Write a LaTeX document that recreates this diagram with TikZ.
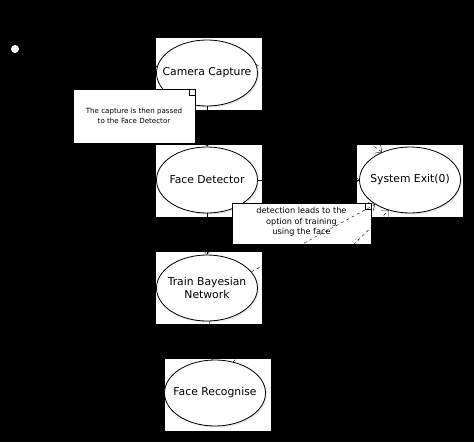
\documentclass[tikz,border=0pt]{standalone}
\usepackage{fontspec}
\setmainfont{DejaVu Sans}
\usetikzlibrary{shapes.geometric,arrows.meta,shadows}

\begin{document}
\begin{tikzpicture}[
        x=1pt, y=-1pt,
        font=\fontsize{10.8}{12.5}\selectfont,
        box/.style={fill=white, minimum width=106pt, minimum height=72pt, inner sep=0pt}, % white ground under a use case
        usecase/.style={ellipse, draw, thick, fill=white, minimum width=101pt, minimum height=66pt, inner sep=-12pt, align=center,
            drop shadow={shadow xshift=1.5pt, shadow yshift=-1.5pt, fill=gray!35}},
        note/.style={draw, fill=white, align=center, inner sep=0pt, font=\fontsize{7.1}{10.4}\selectfont},
        flow/.style={draw, -{Straight Barb[length=4pt]}},
        dep/.style={draw, dashed, -{Straight Barb[length=5pt]}},
    ]

    \fill[black] (0,0) rectangle (474,442);
    \useasboundingbox (0,0) rectangle (474,442);

    % use cases
    \node[box] (camerabox) at (209,74) {};
    \node[usecase] (camera) at (207,73) {Camera Capture};
    \node[box] (detectorbox) at (209,181) {};
    \node[usecase] (detector) at (207,180) {Face Detector};
    \node[box] (exitbox) at (409.5,181) {};
    \node[usecase] (exit) at (410,180) {System Exit(0)};
    \node[box] (trainbox) at (209,288) {};
    \node[usecase] (train) at (207,288) {Train Bayesian\\Network};
    \node[box] (recognisebox) at (217.5,394.5) {};
    \node[usecase] (recognise) at (215,393) {Face Recognise};
    \node[circle, fill=white, minimum size=8pt, inner sep=0pt] (start) at (15,49) {};

    % notes
    \node[note, minimum width=122pt, minimum height=54pt] (capturenote) at (134,116) {The capture is then passed\\to the Face Detector};
    \draw[fill=white] (capturenote.north east) ++(-6,0) -- ++(0,6) -- ++(6,0);
    \node[note, minimum width=139pt, minimum height=41pt, text depth=5pt, font=\fontsize{8.2}{10.6}\selectfont] (trainnote) at (301.5,223.5) {detection leads to the\\option of training\\using the face};
    \draw[fill=white] (trainnote.north east) ++(-6,0) -- ++(0,6) -- ++(6,0);

    % connectors
    \draw[flow] (start) -- (camera);
    \draw[flow] (camera) -- (detector);
    \draw[flow] (detector) -- (exit);
    \draw[flow] (detector) -- (train);
    \draw[flow] (train) -- (recognise);
    \draw[dep] (camera.10) -- (exit.135);
    \draw[dep] (train.20) -- (exit.215);
    \draw[dep] (recognise.60) -- (exit.235);

\end{tikzpicture}
\end{document}
